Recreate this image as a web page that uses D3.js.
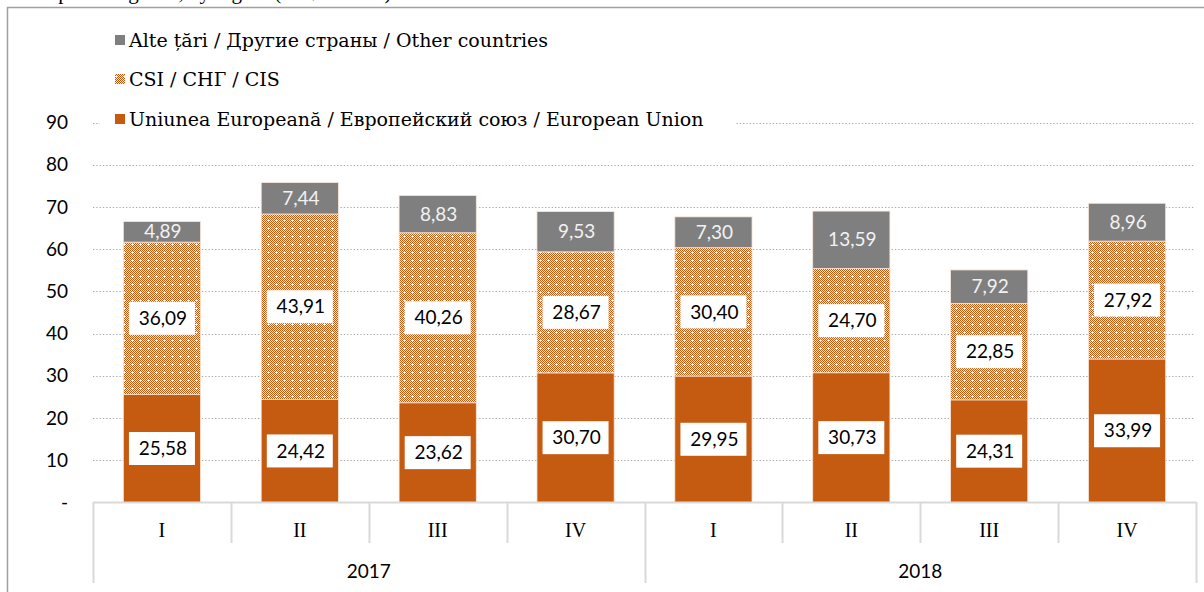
<!DOCTYPE html>
<meta charset="utf-8">
<script src="https://d3js.org/d3.v7.min.js"></script>
<style>
  body { margin: 0; background: #fff; }
</style>
<div id="chart"></div>
<script>

// data
const years = ["2017", "2018"];
const quarters = ["I", "II", "III", "IV"];
const euValues    = [25.58, 24.42, 23.62, 30.70, 29.95, 30.73, 24.31, 33.99];
const cisValues   = [36.09, 43.91, 40.26, 28.67, 30.40, 24.70, 22.85, 27.92];
const otherValues = [4.89, 7.44, 8.83, 9.53, 7.30, 13.59, 7.92, 8.96];
const seriesNames = [
  "Uniunea Europeană / Европейский союз / European Union",
  "CSI / СНГ / CIS",
  "Alte țări / Другие страны / Other countries"
];
const yTicks = [0, 10, 20, 30, 40, 50, 60, 70, 80, 90];
const title = "Exports of goods, by region (US$ million)";

const W = 1204, H = 592;
const orange = "#c55a11", grey = "#7f7f7f";
const numFont = "Lato, 'Open Sans', sans-serif";
const serifFont = "'Liberation Serif', 'DejaVu Serif', serif";
const legendFont = "'DejaVu Serif', serif";

const svg = d3.select("#chart").append("svg")
  .attr("width", W).attr("height", H);

// checkered pattern for CIS
const defs = svg.append("defs");
const pat = defs.append("pattern")
  .attr("id", "cis")
  .attr("patternUnits", "userSpaceOnUse")
  .attr("width", 8).attr("height", 8);
pat.append("rect").attr("width", 8).attr("height", 8).attr("fill", "#fbece2");
for (let i = 0; i < 8; i++) {
  for (let j = 0; j < 8; j++) {
    if ((i + j) % 2 === 0 && !(i === 4 && j === 4)) {
      pat.append("rect").attr("x", i).attr("y", j)
        .attr("width", 1).attr("height", 1)
        .attr("shape-rendering", "crispEdges")
        .attr("fill", orange);
    }
  }
}
pat.append("rect").attr("x", 3).attr("y", 4).attr("width", 3).attr("height", 1)
  .attr("shape-rendering", "crispEdges").attr("fill", "#fff");

// cut title + frame
svg.append("text")
  .attr("x", 35).attr("y", -1)
  .style("font-family", serifFont).style("font-size", "21px")
  .text(title);
svg.append("path")
  .attr("d", `M7.5,${H} V7.5 H${W}`)
  .attr("fill", "none").attr("stroke", "#a0a0a0").attr("stroke-width", 1.5);

// scales
const keys = [];
years.forEach(y => quarters.forEach(q => keys.push(y + "-" + q)));

const x = d3.scaleBand()
  .domain(keys)
  .range([93, 1196])
  .paddingInner(0.44)
  .paddingOuter(0.22);

const y = d3.scaleLinear()
  .domain([0, 90])
  .range([502.5, 122.5]);

// gridlines
svg.append("g")
  .selectAll("line")
  .data(yTicks.filter(d => d > 0))
  .join("line")
    .attr("x1", 93).attr("x2", 1195)
    .attr("y1", d => Math.round(y(d)) + 0.5)
    .attr("y2", d => Math.round(y(d)) + 0.5)
    .attr("stroke", "#a6a6a6")
    .attr("stroke-width", 1.2)
    .attr("stroke-dasharray", "1.3,2");

// y labels
svg.append("g")
  .selectAll("text")
  .data(yTicks)
  .join("text")
    .attr("x", 68)
    .attr("y", d => y(d))
    .attr("dy", "0.35em")
    .attr("text-anchor", "end")
    .style("font-family", numFont).style("font-size", "19px")
    .attr("fill", "#000")
    .text(d => d === 0 ? "-" : d);

// stacked data
const rows = keys.map((k, i) => ({ key: k, eu: euValues[i], cis: cisValues[i], other: otherValues[i] }));
const stack = d3.stack().keys(["eu", "cis", "other"]);
const layers = stack(rows);
const fills = { eu: orange, cis: "url(#cis)", other: grey };

const bars = svg.append("g");
layers.forEach(layer => {
  bars.append("g").selectAll("rect")
    .data(layer)
    .join("rect")
      .attr("x", d => x(d.data.key))
      .attr("width", x.bandwidth())
      .attr("y", d => y(d[1]))
      .attr("height", d => y(d[0]) - y(d[1]))
      .attr("fill", fills[layer.key])
      .attr("stroke", "#fbe5d6")
      .attr("stroke-width", 0.8);
});

// value labels
layers.forEach(layer => {
  const g = svg.append("g");
  const boxed = layer.key !== "other";
  layer.forEach(d => {
    const cx = x(d.data.key) + x.bandwidth() / 2;
    const cy = y((d[0] + d[1]) / 2);
    if (boxed) {
      g.append("rect")
        .attr("x", cx - 33).attr("y", cy - 16.5)
        .attr("width", 66).attr("height", 33)
        .attr("fill", "#fff");
    }
    g.append("text")
      .attr("x", cx + 1).attr("y", cy)
      .attr("dy", "0.35em")
      .attr("text-anchor", "middle")
      .style("font-family", numFont).style("font-size", "19px")
      .attr("fill", boxed ? "#000" : "#f2f2f2")
      .text(d3.format(".2f")(d.data[layer.key]).replace(".", ","));
  });
});

// category axis
const axis = svg.append("g");
axis.append("line")
  .attr("x1", 93).attr("x2", 1196)
  .attr("y1", 502.5).attr("y2", 502.5)
  .attr("stroke", "#d9d9d9").attr("stroke-width", 2);
const step = x.step();
const x0 = x.range()[0];
d3.range(keys.length + 1).forEach(i => {
  const long = i % quarters.length === 0;
  const xx = Math.round(x0 + i * step) + 0.5;
  axis.append("line")
    .attr("x1", xx).attr("x2", xx)
    .attr("y1", 502).attr("y2", long ? 583 : 543)
    .attr("stroke", "#d9d9d9").attr("stroke-width", 2);
});
axis.selectAll("text.q")
  .data(keys)
  .join("text")
    .attr("class", "q")
    .attr("x", d => x(d) + x.bandwidth() / 2)
    .attr("y", 530)
    .attr("dy", "0.35em")
    .attr("text-anchor", "middle")
    .style("font-family", serifFont).style("font-size", "20px")
    .text(d => d.split("-")[1]);
axis.selectAll("text.yr")
  .data(years)
  .join("text")
    .attr("class", "yr")
    .attr("x", (d, i) => x0 + (i * quarters.length + quarters.length / 2) * step)
    .attr("y", 571)
    .attr("dy", "0.35em")
    .attr("text-anchor", "middle")
    .style("font-family", numFont).style("font-size", "19px")
    .text(d => d);

// legend (top to bottom: other, cis, eu)
const legend = svg.append("g");
legend.append("rect")
  .attr("x", 100).attr("y", 20).attr("width", 636).attr("height", 116)
  .attr("fill", "#fff");
const legendItems = [
  { name: seriesNames[2], fill: grey, y: 40 },
  { name: seriesNames[1], fill: "url(#cis)", y: 79 },
  { name: seriesNames[0], fill: orange, y: 119 }
];
legendItems.forEach(it => {
  legend.append("rect")
    .attr("x", 115).attr("y", it.y - 5)
    .attr("width", 10).attr("height", 10)
    .attr("fill", it.fill);
  legend.append("text")
    .attr("x", 129).attr("y", it.y)
    .attr("dy", "0.35em")
    .style("font-family", legendFont).style("font-size", "19px")
    .text(it.name);
});

</script>
